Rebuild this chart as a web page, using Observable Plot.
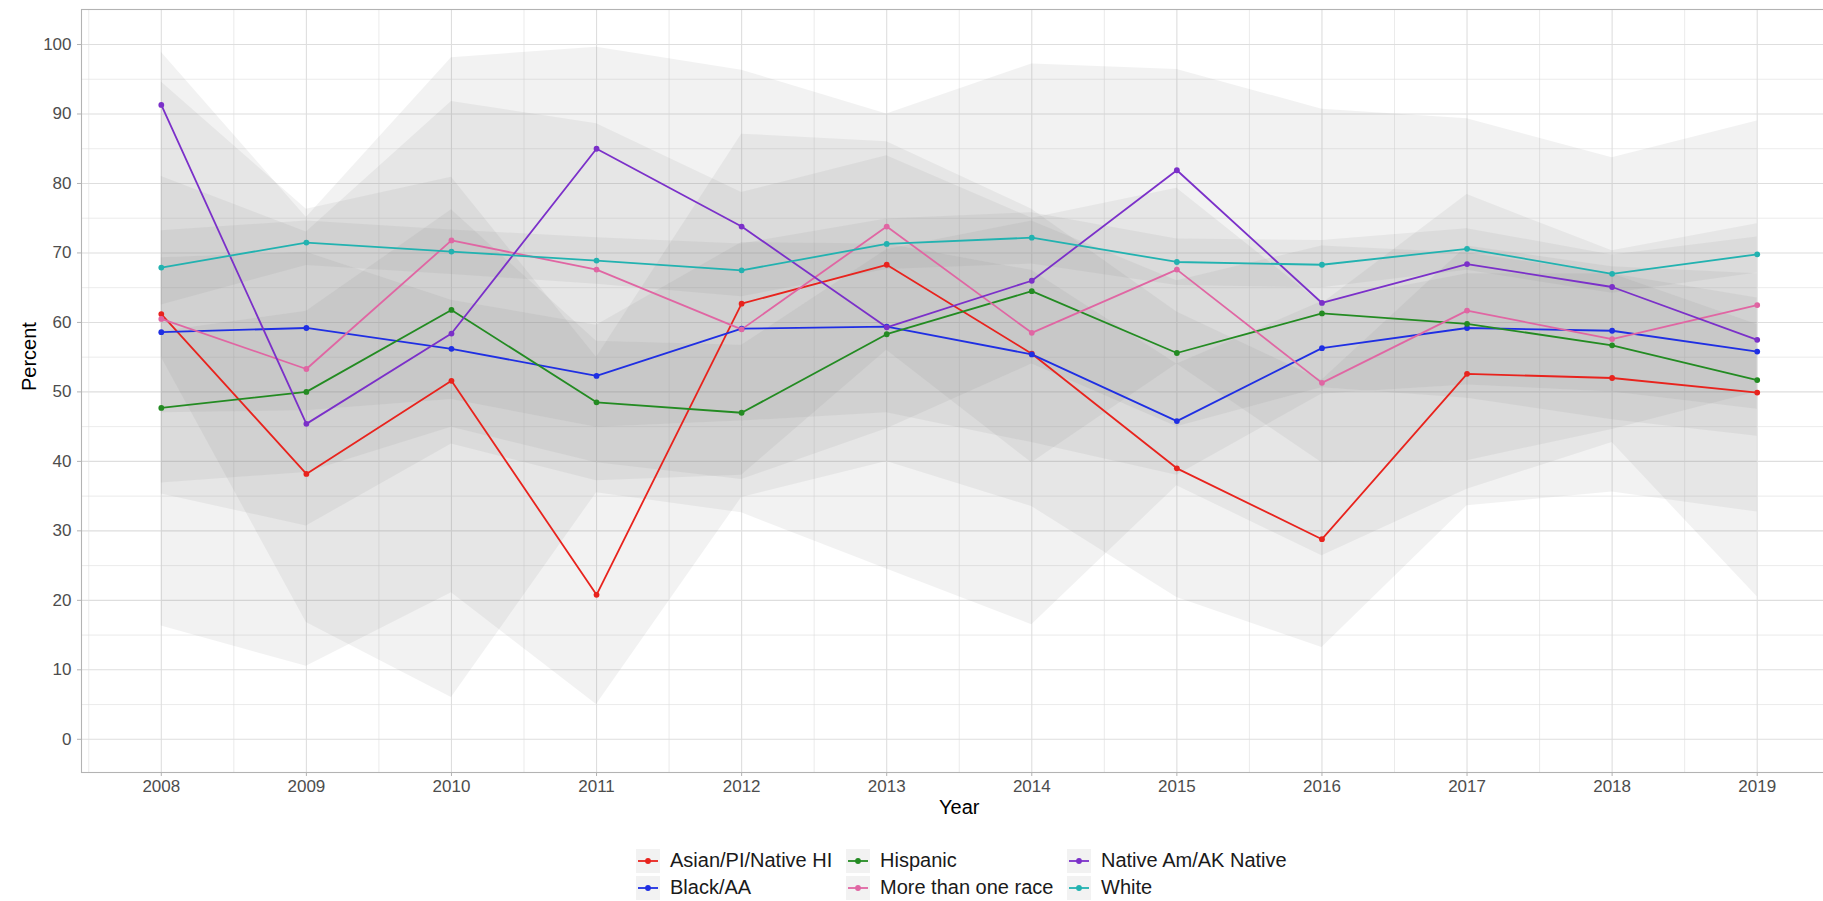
<!DOCTYPE html>
<html>
<head>
<meta charset="utf-8">
<script src="https://cdn.jsdelivr.net/npm/d3@7"></script>
<script src="https://cdn.jsdelivr.net/npm/@observablehq/plot@0.6"></script>
<style>
html, body { margin: 0; padding: 0; background: #fff; overflow: hidden; }
body { width: 1823px; height: 901px; position: relative; font-family: "Liberation Sans", Arial, sans-serif; }
#chart { width: 1823px; overflow: hidden; }
#chart svg { display: block; max-width: none !important; width: 1837px !important; height: 830px !important; }
.legend { position: absolute; left: 636px; top: 847px; display: grid; grid-template-columns: 210px 221px auto; grid-template-rows: 27px 27px; grid-auto-flow: column; }
.item { display: flex; align-items: center; font-size: 20px; color: #1a1a1a; white-space: nowrap; }
.key { width: 24px; height: 24px; background: #f2f2f2; margin-right: 10px; display: block; }
</style>
</head>
<body>
<div id="chart"></div>
<div class="legend" id="legend"></div>
<script>
const years = [2008, 2009, 2010, 2011, 2012, 2013, 2014, 2015, 2016, 2017, 2018, 2019];
const series = ["Asian/PI/Native HI", "Black/AA", "Hispanic", "More than one race", "Native Am/AK Native", "White"];
const colors = ["#e8231d", "#1f2fe3", "#238b22", "#e066a3", "#7b30c9", "#22b2b0"];

const asian   = [61.2, 38.2, 51.6, 20.8, 62.7, 68.3, 55.5, 39.0, 28.8, 52.6, 52.0, 49.9];
const asianLo = [16.3, 10.5, 21.1, 5.0, 34.8, 40.0, 33.5, 20.4, 13.2, 33.6, 35.6, 32.7];
const asianHi = [94.6, 76.3, 80.9, 55.0, 87.1, 86.0, 76.3, 61.5, 51.7, 71.0, 68.0, 67.0];

const black   = [58.6, 59.2, 56.2, 52.3, 59.1, 59.4, 55.4, 45.8, 56.3, 59.2, 58.8, 55.8];
const blackLo = [47.0, 47.3, 48.9, 44.9, 45.8, 47.0, 42.7, 38.0, 49.7, 51.0, 50.0, 47.5];
const blackHi = [69.3, 70.1, 63.2, 59.6, 71.5, 71.3, 67.5, 54.0, 63.0, 67.0, 67.0, 63.5];

const hisp    = [47.7, 50.0, 61.8, 48.5, 47.0, 58.3, 64.5, 55.6, 61.3, 59.8, 56.7, 51.7];
const hispLo  = [36.9, 38.4, 44.9, 39.8, 37.4, 44.7, 54.0, 45.0, 50.6, 49.1, 46.0, 43.6];
const hispHi  = [58.7, 61.6, 76.2, 57.3, 56.7, 70.5, 74.6, 66.0, 71.0, 70.0, 67.0, 59.7];

const multi   = [60.5, 53.3, 71.8, 67.6, 59.0, 73.8, 58.5, 67.6, 51.3, 61.7, 57.6, 62.5];
const multiLo = [35.3, 30.7, 42.5, 37.2, 38.0, 56.0, 39.8, 54.0, 39.8, 40.1, 44.6, 50.0];
const multiHi = [81.0, 73.0, 91.8, 88.6, 78.7, 84.0, 75.0, 79.3, 62.7, 78.4, 70.3, 74.2];

const native   = [91.3, 45.4, 58.4, 85.0, 73.8, 59.3, 66.0, 81.9, 62.8, 68.4, 65.1, 57.5];
const nativeLo = [55.0, 16.8, 6.0, 35.5, 32.6, 24.5, 16.5, 36.5, 26.4, 36.0, 42.7, 20.5];
const nativeHi = [98.9, 75.1, 98.1, 99.6, 96.3, 90.0, 97.2, 96.4, 90.7, 89.3, 83.7, 89.0];

const white   = [67.9, 71.5, 70.2, 68.9, 67.5, 71.3, 72.2, 68.7, 68.3, 70.6, 67.0, 69.8];
const whiteLo = [62.5, 68.2, 66.9, 65.5, 63.7, 67.6, 68.4, 65.3, 65.0, 67.5, 64.2, 67.1];
const whiteHi = [73.2, 74.6, 73.3, 72.2, 71.3, 74.9, 75.8, 72.0, 71.8, 73.5, 69.7, 72.3];

const yTicks = [0, 10, 20, 30, 40, 50, 60, 70, 80, 90, 100];
const yMinor = [5, 15, 25, 35, 45, 55, 65, 75, 85, 95];
const xMinor = [2007.5, 2008.5, 2009.5, 2010.5, 2011.5, 2012.5, 2013.5, 2014.5, 2015.5, 2016.5, 2017.5, 2018.5, 2019.5];

const vals = [asian, black, hisp, multi, native, white];
const los = [asianLo, blackLo, hispLo, multiLo, nativeLo, whiteLo];
const his = [asianHi, blackHi, hispHi, multiHi, nativeHi, whiteHi];

const rows = [];
series.forEach((s, i) => years.forEach((yr, j) => rows.push({series: s, year: yr, value: vals[i][j], lo: los[i][j], hi: his[i][j]})));

const grid = "#dedede";
const plot = Plot.plot({
  width: 1837,
  height: 830,
  marginLeft: 81,
  marginRight: 0.5,
  marginTop: 9,
  marginBottom: 58,
  style: {fontFamily: "Liberation Sans, Arial, sans-serif", background: "#fff", overflow: "visible"},
  x: {domain: [2007.45, 2019.55]},
  y: {domain: [-4.78, 105.04]},
  color: {domain: series, range: colors},
  marks: [
    Plot.ruleX(xMinor, {stroke: grid, strokeWidth: 0.6}),
    Plot.ruleY(yMinor, {stroke: grid, strokeWidth: 0.6}),
    Plot.ruleX(years, {stroke: grid, strokeWidth: 1.1}),
    Plot.ruleY(yTicks, {stroke: grid, strokeWidth: 1.1}),
    Plot.areaY(rows, {x: "year", y1: "lo", y2: "hi", z: "series", fill: "#7f7f7f", fillOpacity: 0.1}),
    Plot.line(rows, {x: "year", y: "value", z: "series", stroke: "series", strokeWidth: 1.8}),
    Plot.dot(rows, {x: "year", y: "value", fill: "series", r: 2.9}),
    Plot.frame({stroke: "#b3b3b3", strokeWidth: 1.1}),
    Plot.axisX(years, {tickFormat: d => String(d), tickSize: 4, tickPadding: 3, fontSize: 17, stroke: "#b3b3b3", fill: "#4d4d4d", label: null}),
    Plot.axisY(yTicks, {tickSize: 4, tickPadding: 6, fontSize: 17, stroke: "#b3b3b3", fill: "#4d4d4d", label: null}),
    Plot.text(["Year"], {frameAnchor: "bottom", dy: 41, fontSize: 20, fill: "#000"}),
    Plot.text(["Percent"], {frameAnchor: "left", dx: -52, rotate: -90, fontSize: 20, fill: "#000"})
  ]
});
document.getElementById("chart").appendChild(plot);

const legend = document.getElementById("legend");
series.forEach((s, i) => {
  const item = document.createElement("div");
  item.className = "item";
  item.innerHTML = `<svg class="key" width="24" height="24"><rect width="24" height="24" fill="#f2f2f2"/><line x1="2" x2="22" y1="12" y2="12" stroke="${colors[i]}" stroke-width="1.8"/><circle cx="12" cy="12" r="2.9" fill="${colors[i]}"/></svg><span></span>`;
  item.querySelector("span").textContent = s;
  legend.appendChild(item);
});
</script>
</body>
</html>
